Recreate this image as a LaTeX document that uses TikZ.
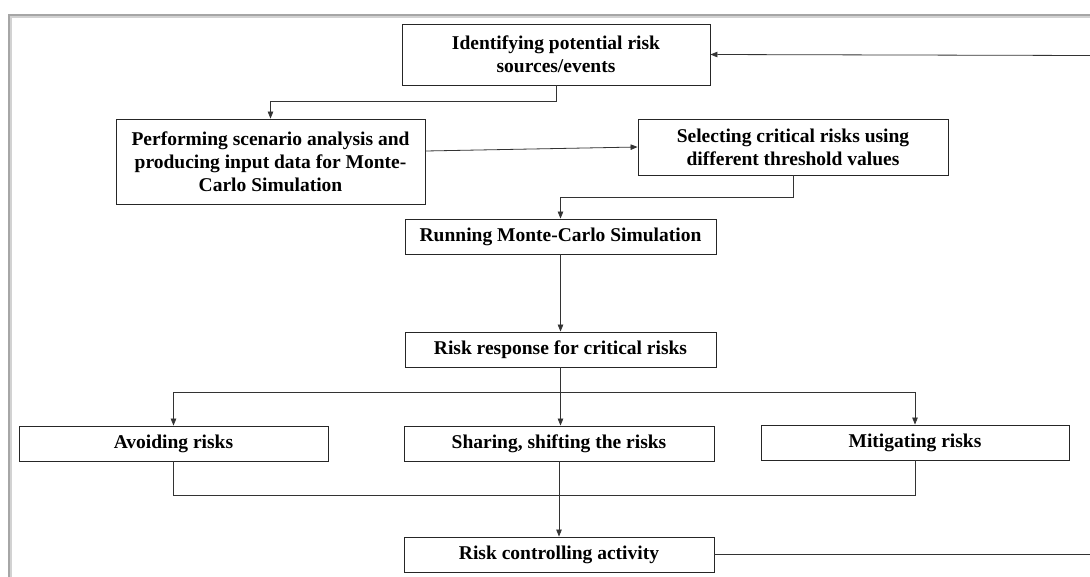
\documentclass[tikz,border=0pt]{standalone}
\usepackage{fontspec}
\setmainfont{Liberation Serif}
\usetikzlibrary{arrows.meta,calc}
\begin{document}
\begin{tikzpicture}[x=1pt,y=-1pt,
  box/.style={draw=black!85, line width=0.9pt, fill=white, inner sep=0pt, align=center,
    font=\bfseries\fontsize{19.5}{23}\selectfont},
  conn/.style={draw=black!80, line width=0.8pt},
  arr/.style={conn, -{Triangle[length=7pt,width=5.5pt]}}]
\useasboundingbox (0,0) rectangle (1090,576);
\fill[white] (0,0) rectangle (1090,576);
% outer frame
\draw[gray!35, line width=2pt] (11,578) -- (11,17) -- (1092,17);
\draw[gray!70, line width=1.3pt] (9,578) -- (9,15) -- (1092,15);

\node[box, minimum width=308, minimum height=61] (ident) at (556,54.5) {Identifying potential risk\\sources/events};
\node[box, minimum width=309, minimum height=85] (perf) at (270.5,161.5) {Performing scenario analysis and\\producing input data for Monte-\\Carlo Simulation};
\node[box, minimum width=310, minimum height=56] (sel) at (793,147) {Selecting critical risks using\\different threshold values};
\node[box, minimum width=311, minimum height=35] (run) at (560.5,236.5) {Running Monte-Carlo Simulation};
\node[box, minimum width=311, minimum height=35] (resp) at (560.5,349.5) {Risk response for critical risks};
\node[box, minimum width=309, minimum height=35] (avoid) at (173.5,443.5) {Avoiding risks};
\node[box, minimum width=310, minimum height=35] (share) at (559,443.5) {Sharing, shifting the risks};
\node[box, minimum width=308, minimum height=35] (mitig) at (915,442.5) {Mitigating risks};
\node[box, minimum width=310, minimum height=35] (ctrl) at (559,554.5) {Risk controlling activity};

\coordinate (fbR) at (1091,554.5);
\coordinate (fbT) at (1091,55.5);

\draw[arr] (ident.south) -- ++(0,15.5) -| (perf.north);
\draw[arr] ([yshift=10.5pt]perf.east) -- (sel.west);
\draw[arr] (sel.south) -- ++(0,22) -| (run.north);
\draw[arr] (run.south) -- (resp.north);
\draw[conn] (resp.south) -- ++(0,24.5) coordinate (split);
\draw[arr] (split) -- (split |- share.north);
\draw[arr] (split) -| (avoid.north);
\draw[arr] (split) -| (mitig.north);
\draw[conn] (avoid.south) -- ++(0,34) coordinate (join) -| (mitig.south);
\draw[conn] (share.south) -- (share.south |- join);
\draw[arr] (share.south |- join) -- (ctrl.north);
\draw[conn] (ctrl.east) -- (fbR);
\draw[arr] (fbT) -- (ident.east);
\end{tikzpicture}
\end{document}
